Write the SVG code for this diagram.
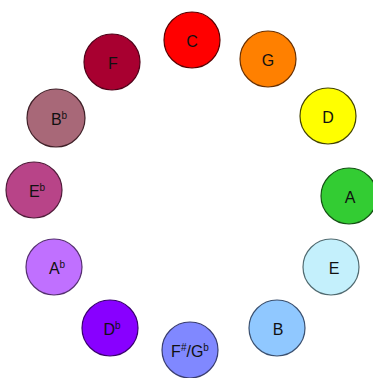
<svg xmlns="http://www.w3.org/2000/svg" width="373" height="378" viewBox="0 0 373 378">
<style>
.n{stroke-width:1.2}
.t{font-family:"Liberation Sans",Arial,sans-serif;font-size:16px;text-anchor:middle;fill:#111}
.s{font-size:10px}
</style>
<rect width="373" height="378" fill="#fff"/>
<g id="C"><circle class="n" cx="192" cy="40" r="28" fill="#ff0000" stroke="#5a0000"/><text class="t" x="192" y="47">C</text></g>
<g id="G"><circle class="n" cx="268" cy="59" r="28" fill="#ff8000" stroke="#6a3000"/><text class="t" x="268" y="66">G</text></g>
<g id="D"><circle class="n" cx="328" cy="116" r="28" fill="#ffff00" stroke="#444400"/><text class="t" x="328" y="123">D</text></g>
<g id="A"><circle class="n" cx="349" cy="196" r="28" fill="#33cc33" stroke="#145214"/><text class="t" x="350" y="203">A</text></g>
<g id="E"><circle class="n" cx="331" cy="267" r="28" fill="#c4f0fc" stroke="#506a70"/><text class="t" x="334" y="274">E</text></g>
<g id="B"><circle class="n" cx="277" cy="328" r="28" fill="#90c8ff" stroke="#3a5070"/><text class="t" x="278" y="335">B</text></g>
<g id="FsGb"><circle class="n" cx="190" cy="350" r="28" fill="#8088ff" stroke="#383c70"/><text class="t" x="190" y="357">F<tspan class="s" dy="-6">#</tspan><tspan dy="6">/G</tspan><tspan class="s" dy="-6">b</tspan></text></g>
<g id="Db"><circle class="n" cx="110" cy="328" r="28" fill="#8800ff" stroke="#3a0070"/><text class="t" x="112" y="335">D<tspan class="s" dy="-6">b</tspan></text></g>
<g id="Ab"><circle class="n" cx="54" cy="267" r="28" fill="#c070ff" stroke="#553070"/><text class="t" x="57" y="274">A<tspan class="s" dy="-6">b</tspan></text></g>
<g id="Eb"><circle class="n" cx="34" cy="190" r="28" fill="#b84488" stroke="#501c3a"/><text class="t" x="37" y="197">E<tspan class="s" dy="-6">b</tspan></text></g>
<g id="Bb"><circle class="n" cx="56" cy="118" r="29" fill="#a86878" stroke="#402028"/><text class="t" x="59" y="125">B<tspan class="s" dy="-6">b</tspan></text></g>
<g id="F"><circle class="n" cx="112" cy="62" r="28" fill="#a80030" stroke="#500018"/><text class="t" x="113" y="69">F</text></g>
<g id="connectors"/>
</svg>
